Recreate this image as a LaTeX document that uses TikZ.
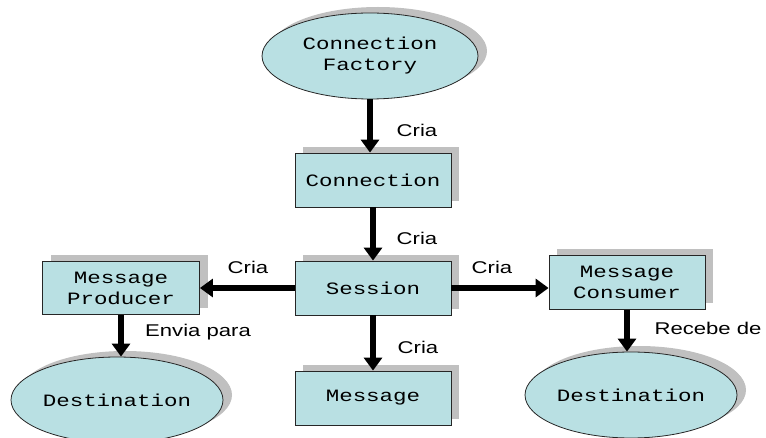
\documentclass[tikz,border=0pt]{standalone}
\usepackage{fontspec}
\setmainfont{Liberation Sans}
\newfontfamily\boxfont[FakeStretch=1.3]{Liberation Mono}
\newfontfamily\labelfont[FakeStretch=1.3]{Liberation Sans}
\usetikzlibrary{arrows.meta,shapes.geometric,shadows}
\definecolor{boxfill}{HTML}{B9E0E3}
\definecolor{shadowgray}{HTML}{C0C0C0}
\tikzset{
  base/.style={draw=black!85, line width=0.8pt, fill=boxfill, inner sep=0pt,
    font=\boxfont\fontsize{17.3}{21}\selectfont, align=center,
    drop shadow={shadow xshift=8pt, shadow yshift=6pt, fill=shadowgray, opacity=1}},
  objbox/.style={base, rectangle, minimum width=156pt, minimum height=54pt},
  objell/.style={base, ellipse, minimum width=212pt, minimum height=86pt,
    drop shadow={shadow xshift=9pt, shadow yshift=5pt, fill=shadowgray, opacity=1}},
  arr/.style={line width=5.5pt, -{Triangle[length=13pt,width=18pt]}},
  lbl/.style={font=\labelfont\fontsize{17}{20}\selectfont, inner sep=0pt}
}
\begin{document}
\begin{tikzpicture}[x=1pt,y=-1pt]
  \useasboundingbox (0,0) rectangle (766,438);

  % objects
  \node[objell, minimum width=216pt] (cf) at (370,56) {Connection\\Factory};
  \node[objbox] (conn) at (373,180) {Connection};
  \node[objbox] (sess) at (373,288) {Session};
  \node[objbox] (msg) at (373,398) {Message};
  \node[objbox, minimum width=157pt, minimum height=53pt] (prod) at (121,288) {Message\\Producer};
  \node[objbox] (cons) at (627,282.5) {Message\\Consumer};
  \node[objell] (dl) at (117,400) {Destination};
  \node[objell] (dr) at (631,395) {Destination};

  % connectors
  \draw[arr] (cf.south) -- (cf.south |- conn.north);
  \draw[arr] (conn.south) -- (sess.north);
  \draw[arr] (sess.west) -- (prod.east);
  \draw[arr] (sess.east) -- (cons.west |- sess.east);
  \draw[arr] (sess.south) -- (msg.north);
  \draw[arr] (prod.south) -- (prod.south |- dl.north);
  \draw[arr] (cons.south) -- (cons.south |- dr.north);

  % connector labels
  \node[lbl] (l1) at (417,130) {Cria};
  \node[lbl] (l2) at (417,238) {Cria};
  \node[lbl] (l3) at (248,267) {Cria};
  \node[lbl] (l4) at (492,267) {Cria};
  \node[lbl] (l5) at (418,347) {Cria};
  \node[lbl] (l6) at (198,332) {Envia para};
  \node[lbl] (l7) at (708,328) {Recebe de};
\end{tikzpicture}
\end{document}
